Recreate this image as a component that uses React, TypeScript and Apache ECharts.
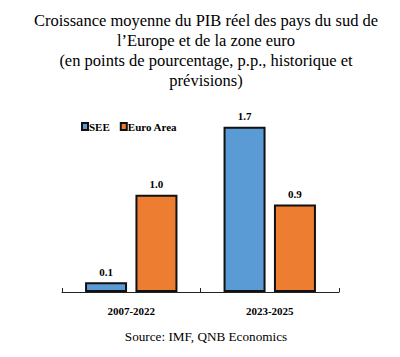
import React, { useEffect, useRef } from "react";
import * as echarts from "echarts";

const categories = ["2007-2022", "2023-2025"];
const seeValues = [0.1, 1.7];
const euroValues = [1.0, 0.9];
const seriesNames = ["SEE", "Euro Area"];
const titleText =
  "Croissance moyenne du PIB réel des pays du sud de\nl\u2019Europe et de la zone euro\n(en points de pourcentage, p.p., historique et\nprévisions)";
const sourceText = "Source: IMF, QNB Economics";

const SERIF = "'Liberation Serif', 'Times New Roman', Times, serif";

export default function App() {
  const ref = useRef<HTMLDivElement>(null);
  useEffect(() => {
    if (!ref.current) return;
    const chart = echarts.init(ref.current, undefined, { renderer: "svg" });
    const labelStyle = {
      show: true,
      position: "top" as const,
      distance: 5,
      fontFamily: SERIF,
      fontWeight: "bold" as const,
      fontSize: 11,
      color: "#000",
      formatter: (p: any) => Number(p.value).toFixed(1),
    };
    chart.setOption({
      animation: false,
      backgroundColor: "#fff",
      title: [
        {
          text: titleText,
          left: 201,
          top: 5,
          textAlign: "center",
          textStyle: {
            fontFamily: SERIF,
            fontSize: 16.5,
            fontWeight: "normal",
            lineHeight: 20,
            color: "#000",
          },
        },
        {
          text: sourceText,
          left: 201,
          top: 325,
          textAlign: "center",
          textStyle: {
            fontFamily: SERIF,
            fontSize: 13.2,
            fontWeight: "normal",
            color: "#000",
          },
        },
      ],
      legend: {
        left: 81,
        top: 121,
        padding: 0,
        icon: "rect",
        itemWidth: 6,
        itemHeight: 7,
        itemGap: 10,
        textStyle: {
          fontFamily: SERIF,
          fontWeight: "bold",
          fontSize: 11,
          color: "#000",
          padding: [0, 0, 0, -4],
        },
        data: seriesNames,
      },
      grid: { left: 62, right: 61, top: 117, bottom: 65 },
      xAxis: {
        type: "category",
        data: categories,
        axisLine: { lineStyle: { color: "#222", width: 1 } },
        axisTick: { show: true, inside: true, length: 4, lineStyle: { color: "#222" } },
        axisLabel: {
          fontFamily: SERIF,
          fontWeight: "bold",
          fontSize: 11,
          color: "#000",
          margin: 13,
        },
      },
      yAxis: {
        type: "value",
        min: 0,
        max: 1.8,
        show: false,
        splitLine: { show: false },
      },
      series: [
        {
          name: seriesNames[0],
          type: "bar",
          data: seeValues,
          barWidth: 42,
          barGap: "20%",
          itemStyle: { color: "#5B9BD5", borderColor: "#111", borderWidth: 2 },
          label: labelStyle,
        },
        {
          name: seriesNames[1],
          type: "bar",
          data: euroValues,
          barWidth: 42,
          barGap: "20%",
          itemStyle: { color: "#ED7D31", borderColor: "#111", borderWidth: 2 },
          label: labelStyle,
        },
      ],
    });
    return () => chart.dispose();
  }, []);
  return (
    <div
      ref={ref}
      style={{ position: "absolute", left: 0, top: 0, width: 400, height: 357 }}
    />
  );
}
